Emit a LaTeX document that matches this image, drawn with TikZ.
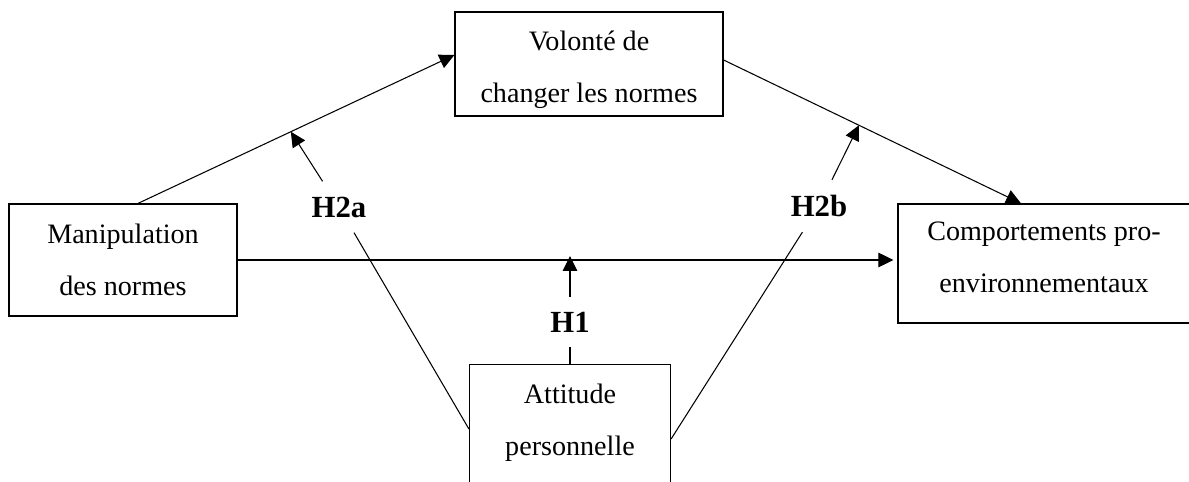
\documentclass[tikz,border=0pt]{standalone}
\usepackage{fontspec}
\setmainfont{Liberation Serif}
\usepackage{tikz}
\usetikzlibrary{arrows.meta}

\begin{document}
\begin{tikzpicture}[x=0.02cm, y=-0.02cm,
            block/.style={draw, rectangle, line width=0.7pt, align=center, font=\fontsize{16}{29.6}\selectfont},
            hyp/.style={font=\fontsize{17.5}{20}\selectfont\bfseries, inner sep=0.3cm},
            arrow/.style={-{Triangle[length=0.3cm, width=0.29cm]}, line width=0.6pt},
            link/.style={line width=0.6pt}]

            \useasboundingbox (0,0) rectangle (1189,482);
            \clip (0,0) rectangle (1189,482);

            \node[block, minimum width=4.56cm, minimum height=2.24cm] (manip) at (123,260) {Manipulation\\des normes};
            \node[block, minimum width=5.36cm, minimum height=2.08cm, text height=1.61cm, text depth=0.05cm] (volonte) at (589,64) {Volonté de\\changer les normes};
            \node[block, minimum width=5.84cm, minimum height=2.38cm, text height=1.3cm, text depth=0.12cm] (comport) at (1044,263.5) {Comportements pro-\\environnementaux};
            \node[block, minimum width=4.02cm, text height=1.7cm, text depth=1.6cm, anchor=north] (attitude) at (570,364) {Attitude\\personnelle};

            \node[hyp] (h2a) at (339,207) {H2a};
            \node[hyp] (h2b) at (819,206) {H2b};
            \node[hyp] (h1) at (570,322) {H1};

            \draw[arrow] ([xshift=0.3cm]manip.north) -- coordinate[pos=0.483] (tipa) ([yshift=0.18cm]volonte.west);
            \draw[arrow] ([yshift=0.08cm]volonte.east) -- coordinate[pos=0.455] (tipb) ([xshift=-0.46cm]comport.north);
            \draw[arrow, shorten >=0.08cm] (manip.east) -- (manip.east -| comport.west);

            \draw[arrow] (h2a) -- (tipa);
            \draw[arrow] (h2b) -- (tipb);
            \draw[arrow] (h1) -- ([yshift=0.08cm]h1 |- manip.east);
            \draw[link] (h2a) -- ([yshift=-1.3cm]attitude.north west);
            \draw[link] (h2b) -- ([yshift=-1.5cm]attitude.north east);
            \draw[link] (attitude.north) -- (h1);
        \end{tikzpicture}
\end{document}
